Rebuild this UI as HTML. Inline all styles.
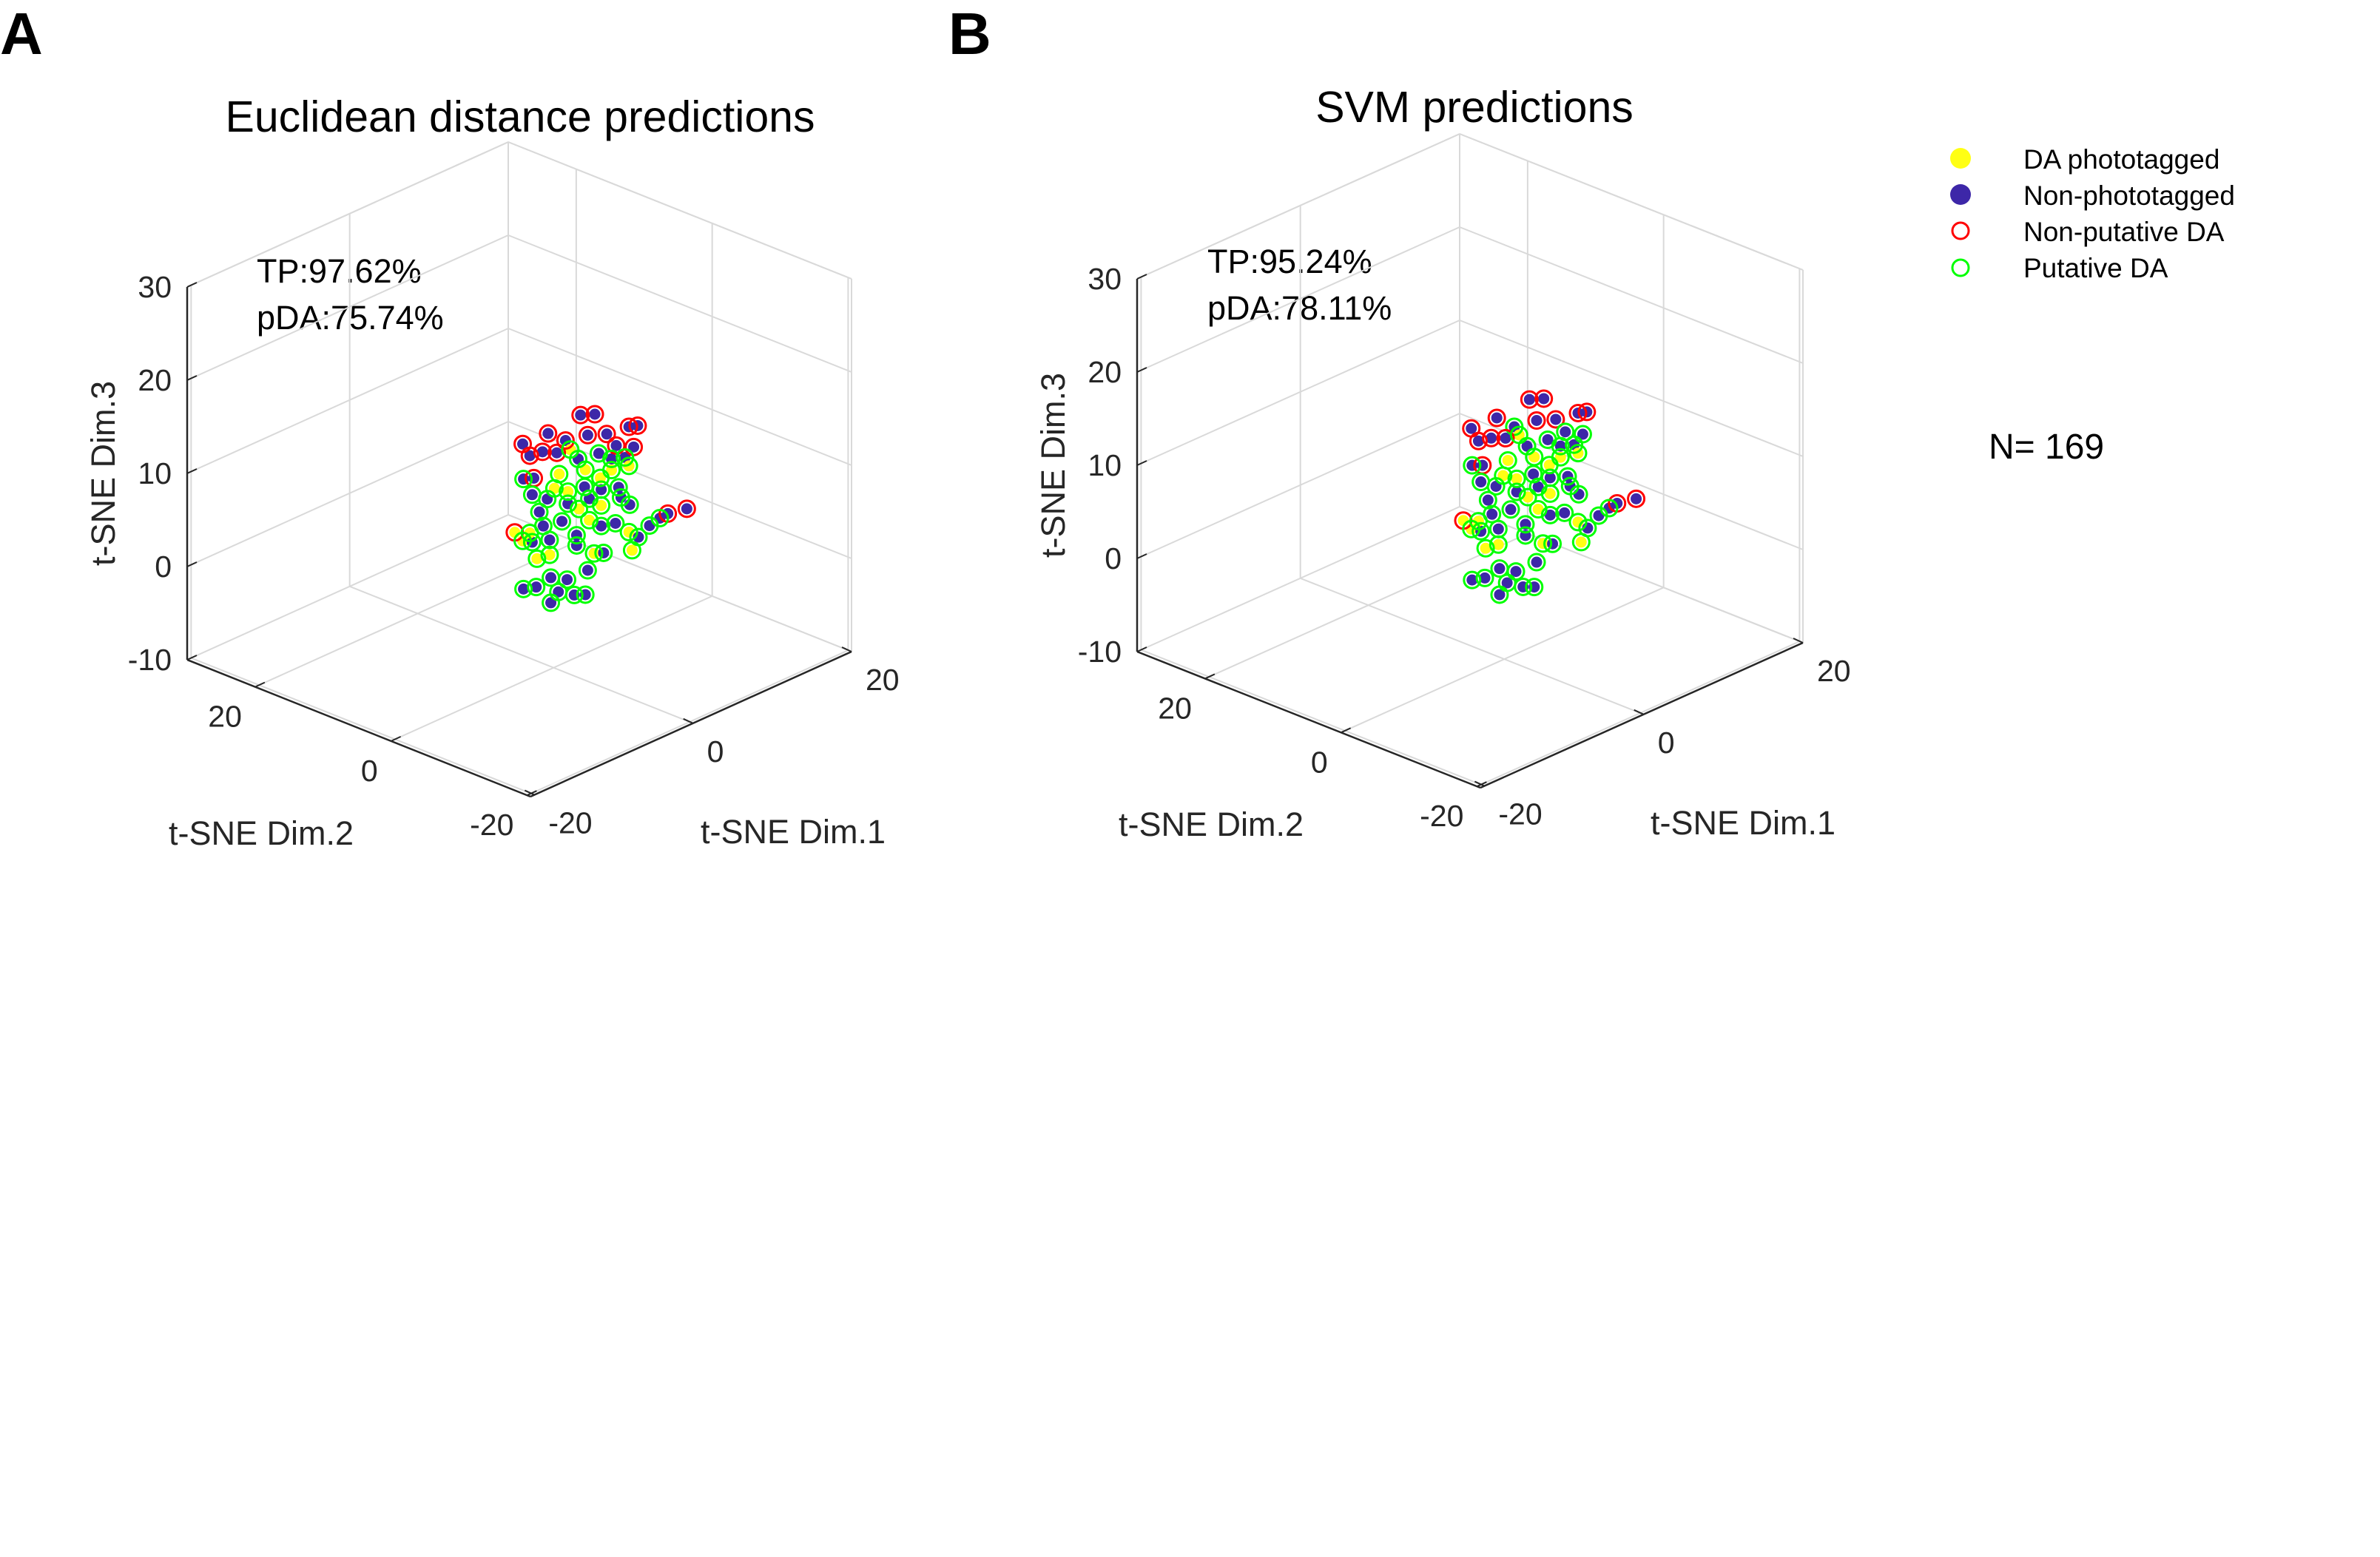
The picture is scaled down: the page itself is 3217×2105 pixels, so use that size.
<!DOCTYPE html>
<html><head><meta charset="utf-8">
<style>
html,body{margin:0;padding:0;background:#fff;}
svg{display:block;font-family:"Liberation Sans",Arial,sans-serif;}
</style></head>
<body>
<svg id="fig" width="3217" height="2105" viewBox="0 0 3217 2105" xmlns="http://www.w3.org/2000/svg">
<rect width="3217" height="2105" fill="#fff"/>
<text x="0" y="73" font-size="80" font-weight="bold">A</text>
<text x="1282" y="73" font-size="80" font-weight="bold">B</text>
<text x="703" y="178" font-size="59" text-anchor="middle">Euclidean distance predictions</text>
<text x="1993" y="165" font-size="59" text-anchor="middle">SVM predictions</text>
<text x="347" y="382" font-size="45">TP:97.62%</text>
<text x="347" y="445" font-size="45">pDA:75.74%</text>
<text x="1632" y="369" font-size="45">TP:95.24%</text>
<text x="1632" y="432" font-size="45">pDA:78.11%</text>
<g>
  <g><circle cx="2650" cy="214" r="14" fill="#ffff14"/><text x="2735" y="228" font-size="37">DA phototagged</text></g>
  <g><circle cx="2650" cy="263" r="14" fill="#3d27a8"/><text x="2735" y="277" font-size="37">Non-phototagged</text></g>
  <g><circle cx="2650" cy="312" r="11" fill="none" stroke="#ff0000" stroke-width="3"/><text x="2735" y="326" font-size="37">Non-putative DA</text></g>
  <g><circle cx="2650" cy="362" r="11" fill="none" stroke="#00ff00" stroke-width="3"/><text x="2735" y="375" font-size="37">Putative DA</text></g>
</g>
<text x="2688" y="620" font-size="48">N= 169</text>
<g id="plotA"></g>
<g id="plotB"></g>
</svg>
<script>
// Shared axis ticks
const dim1Ticks = [-20, 0, 20];
const dim2Ticks = [-20, 0, 20];
const dim3Ticks = [-10, 0, 10, 20, 30];
const dim1Domain = [-20.5, 20];
const dim2Domain = [-20.5, 30];
const dim3Domain = [-10, 30];

// Panel A data (t-SNE coords)
const aDim1 = [3.4,5.2,-0.7,9.5,10.6,4.3,6.7,1.5,-3.9,-3.0,-1.4,0.4,7.9,10.1,-2.5,14.4,16.8,-4.9,2.1,3.1,5.7,7.3,9.0,4.0,7.3,9.5,0.7,5.9,-3.8,-2.7,1.8,3.9,6.0,8.2,-0.8,1.8,6.0,8.5,9.6,-1.8,3.2,4.5,6.0,7.8,1.05,-1.3,9.5,12.1,13.4,10.7,-3.9,-2.7,-0.5,2.9,2.9,-2.1,-0.5,5.1,6.3,9.9,4.3,-3.8,-2.2,-0.35,1.7,0.6,2.6,4.0,-0.35,-3.0,0.1,4.5];
const aDim2 = [0,0,0,0,0,0,0,0,0,0,0,0,0,0,0,0,0,0,0,0,0,0,0,0,0,0,0,0,0,0,0,0,0,0,0,0,0,0,0,0,0,0,0,0,0,0,0,0,0,0,0,0,0,0,0,0,0,0,0,0,0,0,0,0,0,0,0,0,0,0,0,0];
const aDim3 = [15.8,15.2,15.4,12.2,11.9,13.3,12.5,13.8,15.5,13.9,13.7,12.9,10.8,9.8,11.3,1.0,0.6,6.4,12.6,11.2,10.8,9.6,9.1,9.7,8.4,8.0,10.5,8.1,11.7,9.6,8.2,7.9,6.8,6.2,8.4,6.9,5.1,5.0,3.8,7.4,5.8,4.1,2.9,2.5,5.3,5.7,0.9,0.6,0.9,-0.1,5.1,4.5,3.9,3.1,2.0,2.5,2.3,0.3,-0.1,-1.2,-1.2,-0.1,-0.5,-0.2,-1.2,-2.1,-3.2,-3.7,-2.9,5.6,9.2,6.4];
const aTagged = [0,0,0,0,0,0,0,0,0,0,0,0,0,0,0,0,0,1,1,0,0,0,0,1,1,1,1,1,0,0,1,0,0,0,0,0,1,0,0,0,1,1,0,0,0,0,1,0,0,0,1,0,0,0,0,1,1,1,0,1,0,0,0,0,0,0,0,0,0,1,1,0];
const aPutative = [0,0,0,0,0,0,0,0,0,0,0,0,0,0,0,0,0,0,1,1,1,1,1,1,1,1,1,1,1,1,1,1,1,1,1,1,1,1,1,1,1,1,1,1,1,1,1,1,1,1,1,1,1,1,1,1,1,1,1,1,1,1,1,1,1,1,1,1,1,1,1,1];

// Panel B data
const bDim1 = [6.4,8.2,2.3,12.5,13.6,7.3,9.7,4.5,-0.9,0,1.6,3.4,10.9,13.1,0.5,17.4,19.8,-1.9,5.1,6.1,8.7,10.3,12,7,10.3,12.5,3.7,8.9,-0.8,0.3,4.8,6.9,9,11.2,2.2,4.8,9,11.5,12.6,1.2,6.2,7.5,9,10.8,4.05,1.7,12.5,15.1,16.4,13.7,-0.9,0.3,2.5,5.9,5.9,0.9,2.5,8.1,9.3,12.9,7.3,-0.8,0.8,2.65,4.7,3.6,5.6,7,2.65,0,3.1,7.5];
const bDim2 = [3.8,3.8,3.8,3.8,3.8,3.8,3.8,3.8,3.8,3.8,3.8,3.8,3.8,3.8,3.8,3.8,3.8,3.8,3.8,3.8,3.8,3.8,3.8,3.8,3.8,3.8,3.8,3.8,3.8,3.8,3.8,3.8,3.8,3.8,3.8,3.8,3.8,3.8,3.8,3.8,3.8,3.8,3.8,3.8,3.8,3.8,3.8,3.8,3.8,3.8,3.8,3.8,3.8,3.8,3.8,3.8,3.8,3.8,3.8,3.8,3.8,3.8,3.8,3.8,3.8,3.8,3.8,3.8,3.8,3.8,3.8,3.8];
const bDim3 = [14.3,13.7,13.9,10.5,10.2,11.7,10.9,12.1,14.0,12.3,12.0,11.3,9.1,8.0,9.5,-1.07,-1.5,4.5,11.0,9.4,9.1,7.8,7.3,7.9,6.6,6.2,8.8,6.3,10.0,7.8,6.4,6.1,4.9,4.2,6.6,5.0,3.2,3.05,1.75,5.5,3.9,2.1,0.9,0.45,3.4,3.8,-1.2,-1.5,-1.2,-2.3,3.2,2.5,1.9,1.1,-0.1,0.45,0.23,-1.8,-2.3,-3.5,-3.5,-2.3,-2.7,-2.4,-3.5,-4.3,-5.5,-6.05,-5.2,3.7,7.4,4.5];
const bTagged = [0,0,0,0,0,0,0,0,0,0,0,0,0,0,0,0,0,1,1,0,0,0,0,1,1,1,1,1,0,0,1,0,0,0,0,0,1,0,0,0,1,1,0,0,0,0,1,0,0,0,1,0,0,0,0,1,1,1,0,1,0,0,0,0,0,0,0,0,0,1,1,0];
const bPutative = [0,0,0,0,0,0,0,1,0,0,0,0,1,1,0,0,0,0,1,1,1,1,1,1,1,1,1,1,1,1,1,1,1,1,1,1,1,1,1,1,1,1,1,1,1,1,1,1,1,1,1,1,1,1,1,1,1,1,1,1,1,1,1,1,1,1,1,1,1,1,1,1];

const NS = "http://www.w3.org/2000/svg";
function mk(parent, tag, attrs) {
  const e = document.createElementNS(NS, tag);
  for (const k in attrs) e.setAttribute(k, attrs[k]);
  parent.appendChild(e);
  return e;
}

function makeProj(cfg) {
  return function (d1, d2, d3) {
    const f1 = (d1 - dim1Domain[0]) / (dim1Domain[1] - dim1Domain[0]);
    const f2 = (d2 - dim2Domain[0]) / (dim2Domain[1] - dim2Domain[0]);
    const h = (d3 - dim3Domain[0]) * cfg.zs;
    return [cfg.fx + f1 * cfg.v1[0] + f2 * cfg.v2[0], cfg.fy + f1 * cfg.v1[1] + f2 * cfg.v2[1] - h];
  };
}

function drawPanel(g, cfg, D1, D2, D3, tagged, putative, prefix) {
  const P = makeProj(cfg);
  const [x0, x1] = dim1Domain, [y0, y1] = dim2Domain, [z0, z1] = dim3Domain;
  const grid = "#d9d9d9";
  function line(a, b, col, w, name) {
    const l = mk(g, "line", {x1: a[0], y1: a[1], x2: b[0], y2: b[1], stroke: col, "stroke-width": w});
    
    
    return l;
  }
  dim3Ticks.forEach(z => {
    line(P(x0, y1, z), P(x1, y1, z), grid, 2, 'grid-line-z');
    line(P(x1, y0, z), P(x1, y1, z), grid, 2, 'grid-line-z');
  });
  dim1Ticks.forEach(t => {
    line(P(t, y1, z0), P(t, y1, z1), grid, 2, 'grid-line-dim1');
    line(P(t, y0, z0), P(t, y1, z0), grid, 2, 'grid-line-dim1');
  });
  dim2Ticks.forEach(t => {
    line(P(x1, t, z0), P(x1, t, z1), grid, 2, 'grid-line-dim2');
    line(P(x0, t, z0), P(x1, t, z0), grid, 2, 'grid-line-dim2');
  });
  line(P(x1, y1, z0), P(x1, y1, z1), grid, 2, 'box-edge');
  line(P(x1, y0, z0), P(x1, y0, z1), grid, 2, 'box-edge');
  line(P(x0, y1, z1), P(x1, y1, z1), grid, 2, 'box-edge');
  line(P(x1, y0, z1), P(x1, y1, z1), grid, 2, 'box-edge');
  const ax = "#262626";
  line(P(x0, y1, z0), P(x0, y1, z1), ax, 2.5, 'z-axis-line');
  line(P(x0, y0, z0), P(x0, y1, z0), ax, 2.5, 'dim2-axis-line');
  line(P(x0, y0, z0), P(x1, y0, z0), ax, 2.5, 'dim1-axis-line');
  dim3Ticks.forEach(z => {
    const p = P(x0, y1, z);
    line(p, [p[0] + 13, p[1] - 6], ax, 2, 'z-tick');
    const t = mk(g, "text", {x: p[0] - 21, y: p[1] + 14, "font-size": 41, "text-anchor": "end", fill: "#262626"});
    t.textContent = z;
    
    
  });
  dim2Ticks.forEach(v => {
    const p = P(x0, v, z0);
    line(p, [p[0] + 13, p[1] - 6], ax, 2, 'dim2-tick');
    const t = mk(g, "text", {x: p[0] - 18, y: p[1] + 54, "font-size": 41, "text-anchor": "end", fill: "#262626"});
    t.textContent = v;
    
    
  });
  dim1Ticks.forEach(v => {
    const p = P(v, y0, z0);
    line(p, [p[0] - 13, p[1] - 6], ax, 2, 'dim1-tick');
    const t = mk(g, "text", {x: p[0] + 19, y: p[1] + 52, "font-size": 41, "text-anchor": "start", fill: "#262626"});
    t.textContent = v;
    
    
  });
  const zx = P(x0, y1, z0)[0];
  const zc = (P(x0, y1, z0)[1] + P(x0, y1, z1)[1]) / 2;
  let t = mk(g, "text", {x: zx - 114, y: zc, "font-size": 45, "text-anchor": "middle", transform: `rotate(-90 ${zx - 114} ${zc}) translate(0 16)`, fill: "#262626"});
  t.textContent = "t-SNE Dim.3";
  
  
  t = mk(g, "text", {x: cfg.fx - 364, y: cfg.fy + 65, "font-size": 45, "text-anchor": "middle", fill: "#262626"});
  t.textContent = "t-SNE Dim.2";
  
  
  t = mk(g, "text", {x: cfg.fx + 355, y: cfg.fy + 63, "font-size": 45, "text-anchor": "middle", fill: "#262626"});
  t.textContent = "t-SNE Dim.1";
  
  
  for (let i = 0; i < D1.length; i++) {
    const p = P(D1[i], D2[i], D3[i]);
    const c = mk(g, "circle", {cx: p[0], cy: p[1], r: 7.5, fill: tagged[i] ? "#ffff14" : "#3d27a8"});
    
    
  }
  for (let i = 0; i < D1.length; i++) {
    const p = P(D1[i], D2[i], D3[i]);
    const c = mk(g, "circle", {cx: p[0], cy: p[1], r: 11, fill: "none", stroke: putative[i] ? "#00ff00" : "#ff0000", "stroke-width": 3});
    
    
  }
}

drawPanel(document.getElementById("plotA"),
  {fx: 717, fy: 1077, v1: [434, -196], v2: [-464, -185], zs: 12.6},
  aDim1, aDim2, aDim3, aTagged, aPutative, 'panel-a');
drawPanel(document.getElementById("plotB"),
  {fx: 2001, fy: 1065, v1: [436, -196], v2: [-464, -184], zs: 12.6},
  bDim1, bDim2, bDim3, bTagged, bPutative, 'panel-b');
</script>
</body></html>
